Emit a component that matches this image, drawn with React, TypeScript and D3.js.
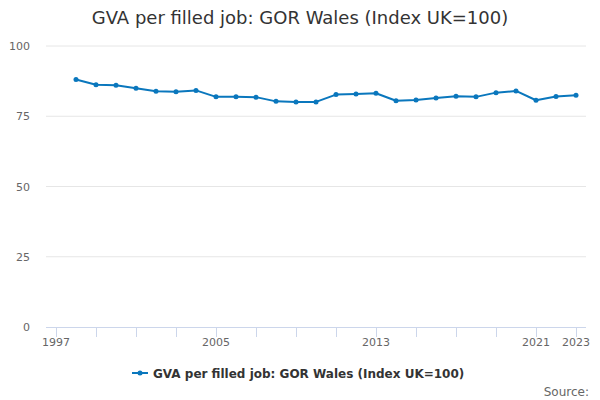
import React, { useEffect, useRef } from "react";
import * as d3 from "d3";

// Data
const years = [
  1998, 1999, 2000, 2001, 2002, 2003, 2004, 2005, 2006, 2007, 2008, 2009, 2010,
  2011, 2012, 2013, 2014, 2015, 2016, 2017, 2018, 2019, 2020, 2021, 2022, 2023,
];
const values = [
  88.1, 86.2, 86.0, 85.0, 83.9, 83.7, 84.2, 81.9, 81.9, 81.8, 80.3, 80.1, 80.1,
  82.7, 82.9, 83.2, 80.5, 80.8, 81.5, 82.1, 81.9, 83.4, 84.0, 80.7, 82.0, 82.5,
];
const yTicks = [0, 25, 50, 75, 100];
const xTickMarks = [1997, 1999, 2001, 2003, 2005, 2007, 2009, 2011, 2013, 2015, 2017, 2019, 2021, 2023];
const xLabels = [1997, 2005, 2013, 2021, 2023];
const title = "GVA per filled job: GOR Wales (Index UK=100)";

const W = 600;
const H = 400;
const FONT = "'DejaVu Sans', sans-serif";
const COLOR = "#0a77bd";

const App: React.FC = () => {
  const svgRef = useRef<SVGSVGElement | null>(null);

  useEffect(() => {
    if (!svgRef.current) return;
    const svg = d3.select(svgRef.current);
    svg.selectAll("*").remove();

    const x = d3.scaleLinear().domain([1996.5, 2023.5]).range([46, 586]);
    const y = d3.scaleLinear().domain([0, 100]).range([327, 46]);

    // title
    svg.append("text")
      .attr("x", W / 2).attr("y", 24)
      .attr("text-anchor", "middle")
      .attr("font-size", 18).attr("fill", "#333")
      .text(title);

    // grid + y labels
    const gy = svg.append("g");
    yTicks.forEach((t) => {
      if (t > 0) {
        gy.append("line")
          .attr("x1", 46).attr("x2", 586)
          .attr("y1", y(t)).attr("y2", y(t))
          .attr("stroke", "#e6e6e6");
      }
      gy.append("text")
        .attr("x", 30).attr("y", y(t) + 4)
        .attr("text-anchor", "end")
        .attr("font-size", 11).attr("fill", "#666")
        .text(t);
    });

    // x axis
    const gx = svg.append("g");
    gx.append("line")
      .attr("x1", 46).attr("x2", 586)
      .attr("y1", 327.5).attr("y2", 327.5)
      .attr("stroke", "#ccd6eb");
    xTickMarks.forEach((t) => {
      gx.append("line")
        .attr("x1", x(t) + 0.5).attr("x2", x(t) + 0.5)
        .attr("y1", 327).attr("y2", 337)
        .attr("stroke", "#ccd6eb");
    });
    xLabels.forEach((t) => {
      gx.append("text")
        .attr("x", x(t)).attr("y", 346)
        .attr("text-anchor", "middle")
        .attr("font-size", 11).attr("fill", "#666")
        .text(t);
    });

    // series
    const pts = years.map((yr, i) => ({ yr, v: values[i] }));
    svg.append("path")
      .datum(pts)
      .attr("fill", "none")
      .attr("stroke", COLOR)
      .attr("stroke-width", 2)
      .attr("stroke-linejoin", "round")
      .attr("d", d3.line<{ yr: number; v: number }>().x((d) => x(d.yr)).y((d) => y(d.v)));
    svg.selectAll("circle.pt")
      .data(pts)
      .enter()
      .append("circle")
      .attr("class", "pt")
      .attr("cx", (d) => x(d.yr))
      .attr("cy", (d) => y(d.v))
      .attr("r", 2.5)
      .attr("fill", COLOR);

    // legend
    const lg = svg.append("g");
    lg.append("line")
      .attr("x1", 132).attr("x2", 148)
      .attr("y1", 373).attr("y2", 373)
      .attr("stroke", COLOR).attr("stroke-width", 2);
    lg.append("circle").attr("cx", 140).attr("cy", 373).attr("r", 2.5).attr("fill", COLOR);
    lg.append("text")
      .attr("x", 153).attr("y", 377.5)
      .attr("font-size", 12).attr("font-weight", "bold").attr("fill", "#333")
      .text(title);

    // source
    svg.append("text")
      .attr("x", 589).attr("y", 396)
      .attr("text-anchor", "end")
      .attr("font-size", 12).attr("fill", "#666")
      .text("Source:");
  }, []);

  return (
    <div style={{ position: "absolute", left: 0, top: 0, width: W, height: H, background: "#fff" }}>
      <svg ref={svgRef} width={W} height={H} style={{ fontFamily: FONT, display: "block" }} />
    </div>
  );
};

export default App;
